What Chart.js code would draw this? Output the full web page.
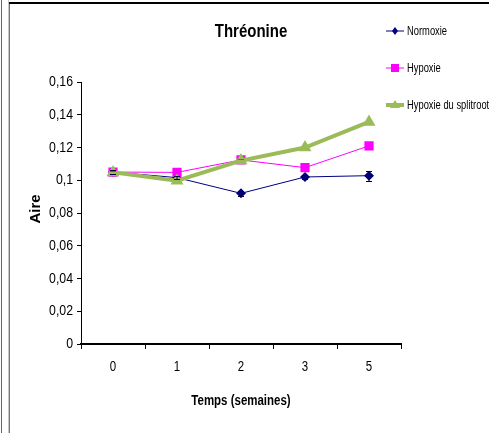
<!DOCTYPE html>
<html>
<head>
<meta charset="utf-8">
<script src="https://cdn.jsdelivr.net/npm/chart.js@4/dist/chart.umd.min.js"></script>
<style>
html,body{margin:0;padding:0;background:#fff;}
#wrap{position:relative;width:489px;height:433px;}
</style>
</head>
<body>
<div id="wrap"><canvas id="c" width="489" height="433"></canvas></div>
<script>
const categories = ['0', '1', '2', '3', '5'];
const seriesNames = ['Normoxie', 'Hypoxie', 'Hypoxie du splitroot'];
const normoxie = [0.105, 0.1016, 0.092, 0.102, 0.1028];
const hypoxie = [0.105, 0.1048, 0.1124, 0.1077, 0.121];
const splitroot = [0.1048, 0.0997, 0.112, 0.120, 0.1356];
const normoxieErr = [0.001, 0.001, 0.0015, 0.0015, 0.003];
const hypoxieErr = [0.0005, 0.0005, 0.0005, 0.0005, 0.0005];
const splitrootErr = [0.0005, 0.0005, 0.0005, 0.0005, 0.0005];
const yTicks = [0, 0.02, 0.04, 0.06, 0.08, 0.1, 0.12, 0.14, 0.16];
const titleText = 'Thréonine';
const xTitle = 'Temps (semaines)';
const yTitle = 'Aire';

const FONT = '"Liberation Sans", Arial, sans-serif';
const NARROW = 0.82;
const colors = ['#000080', '#FF00FF', '#9BBB59'];
const errs = [normoxieErr, hypoxieErr, splitrootErr];

function narrowText(ctx, text, x, y, font, align, scale) {
  ctx.save();
  ctx.font = font;
  ctx.textAlign = align;
  ctx.textBaseline = 'middle';
  ctx.fillStyle = '#000';
  ctx.translate(x, y);
  ctx.scale(scale || NARROW, 1);
  ctx.fillText(text, 0, 0);
  ctx.restore();
}

const decor = {
  id: 'decor',
  beforeDraw(chart) {
    const ctx = chart.ctx;
    ctx.save();
    ctx.fillStyle = '#fff';
    ctx.fillRect(0, 0, chart.width, chart.height);
    ctx.fillStyle = '#666';
    ctx.fillRect(1, 0, 1, 433);
    ctx.fillStyle = '#c8c8c8';
    ctx.fillRect(8, 0, 1, 433);
    ctx.fillStyle = '#777';
    ctx.fillRect(9, 2, 1, 431);
    ctx.fillStyle = '#000';
    ctx.fillRect(9, 2, 480, 2);
    ctx.restore();
  },
  afterDatasetsDraw(chart) {
    const ctx = chart.ctx;
    const xs = chart.scales.x, ys = chart.scales.y;
    ctx.save();
    const sets = [normoxie, hypoxie, splitroot];
    sets.forEach((data, di) => {
      ctx.strokeStyle = di === 0 ? '#000040' : colors[di];
      ctx.lineWidth = 1;
      data.forEach((v, i) => {
        const x = xs.getPixelForValue(i);
        const y1 = Math.round(ys.getPixelForValue(v + errs[di][i])) + 0.5;
        const y2 = Math.round(ys.getPixelForValue(v - errs[di][i])) + 0.5;
        ctx.beginPath();
        ctx.moveTo(x, y1); ctx.lineTo(x, y2);
        ctx.moveTo(x - 3, y1); ctx.lineTo(x + 3, y1);
        ctx.moveTo(x - 3, y2); ctx.lineTo(x + 3, y2);
        ctx.stroke();
      });
    });
    ctx.restore();
  },
  afterDraw(chart) {
    const ctx = chart.ctx;
    const ca = chart.chartArea;
    const xs = chart.scales.x, ys = chart.scales.y;
    categories.forEach((c, i) => {
      narrowText(ctx, c, xs.getPixelForValue(i), 367, '14px ' + FONT, 'center');
    });
    yTicks.forEach(v => {
      const s = String(Math.round(v * 100) / 100).replace('.', ',');
      narrowText(ctx, s, 73, ys.getPixelForValue(v), '15px ' + FONT, 'right');
    });
    narrowText(ctx, titleText, 251, 32, 'bold 19px ' + FONT, 'center', 0.79);
    narrowText(ctx, xTitle, (ca.left + ca.right) / 2, 401, 'bold 14px ' + FONT, 'center');
    ctx.save();
    ctx.translate(36, 209);
    ctx.rotate(-Math.PI / 2);
    ctx.font = 'bold 15px ' + FONT;
    ctx.textAlign = 'center';
    ctx.textBaseline = 'middle';
    ctx.fillStyle = '#000';
    ctx.fillText(yTitle, 0, 0);
    ctx.restore();
    const ly = [31, 68, 105];
    seriesNames.forEach((name, i) => {
      const y = ly[i];
      ctx.save();
      ctx.strokeStyle = colors[i];
      ctx.lineWidth = i === 2 ? 4 : 1;
      ctx.beginPath();
      ctx.moveTo(386, y); ctx.lineTo(404, y);
      ctx.stroke();
      ctx.fillStyle = colors[i];
      const cx = 395;
      ctx.beginPath();
      if (i === 0) {
        ctx.moveTo(cx, y - 4); ctx.lineTo(cx + 3, y); ctx.lineTo(cx, y + 4); ctx.lineTo(cx - 3, y);
      } else if (i === 1) {
        ctx.rect(cx - 4, y - 4, 8, 8);
      } else {
        ctx.moveTo(cx, y - 5); ctx.lineTo(cx + 5, y + 3); ctx.lineTo(cx - 5, y + 3);
      }
      ctx.closePath();
      ctx.fill();
      ctx.restore();
      narrowText(ctx, name, 407, y, '13px ' + FONT, 'left', 0.72);
    });
  }
};

new Chart(document.getElementById('c'), {
  type: 'line',
  data: {
    labels: categories,
    datasets: [
      { label: seriesNames[0], data: normoxie, borderColor: colors[0], backgroundColor: colors[0],
        borderWidth: 1, pointStyle: 'rectRot', pointRadius: 5, pointBorderWidth: 0, order: 3, tension: 0 },
      { label: seriesNames[1], data: hypoxie, borderColor: colors[1], backgroundColor: colors[1],
        borderWidth: 1, pointStyle: 'rect', pointRadius: 6.5, pointBorderWidth: 0, order: 2, tension: 0 },
      { label: seriesNames[2], data: splitroot, borderColor: colors[2], backgroundColor: colors[2],
        borderWidth: 4, pointStyle: 'triangle', pointRadius: 7.5, pointBorderWidth: 0, order: 1, tension: 0 }
    ]
  },
  options: {
    responsive: false,
    animation: false,
    devicePixelRatio: 1,
    layout: { padding: { left: 0, right: 88, top: 82, bottom: 0 } },
    plugins: { legend: { display: false }, title: { display: false }, tooltip: { enabled: false } },
    scales: {
      x: {
        type: 'category',
        offset: true,
        grid: { display: true, drawOnChartArea: false, drawTicks: true, tickLength: 5, color: '#000', offset: true },
        border: { display: true, color: '#000', width: 2 },
        ticks: { display: false },
        afterFit(axis) { axis.height = 89; }
      },
      y: {
        min: 0, max: 0.16,
        afterBuildTicks(axis) { axis.ticks = yTicks.map(v => ({ value: v })); },
        grid: { display: true, drawOnChartArea: false, drawTicks: true, tickLength: 4, color: '#000' },
        border: { display: true, color: '#000', width: 1 },
        ticks: { display: false },
        afterFit(axis) { axis.width = 81; }
      }
    }
  },
  plugins: [decor]
});
</script>
</body>
</html>
